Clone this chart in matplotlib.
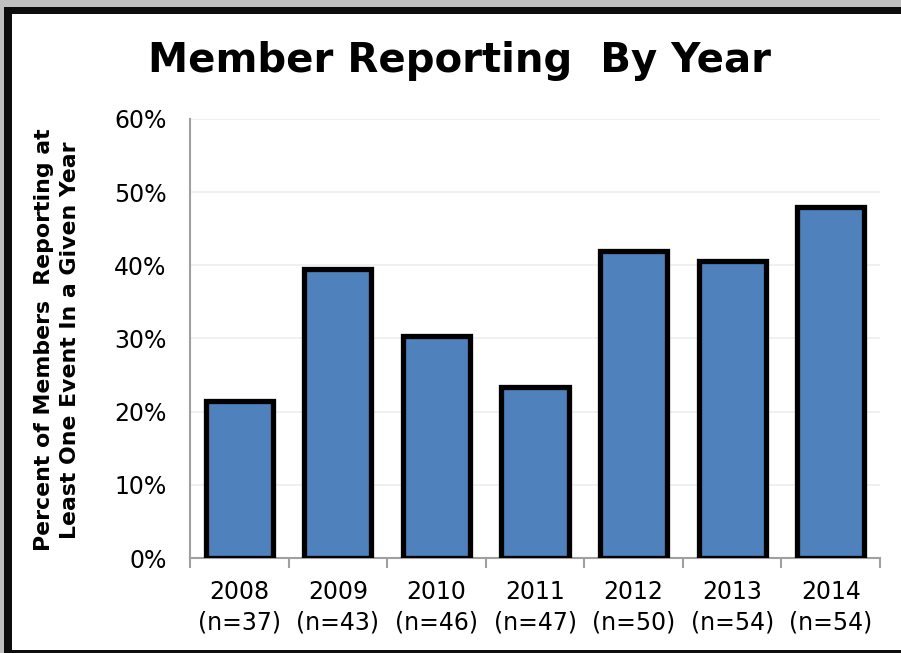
import matplotlib.pyplot as plt
from matplotlib.patches import Rectangle
from matplotlib.ticker import PercentFormatter, MultipleLocator

years = ['2008', '2009', '2010', '2011', '2012', '2013', '2014']
counts = [37, 43, 46, 47, 50, 54, 54]
percents = [21.5, 39.5, 30.3, 23.4, 42.0, 40.6, 48.0]

W, H = 901, 653
fig = plt.figure(figsize=(W / 100, H / 100), dpi=100)
fig.patch.set_facecolor('#c0c0c0')

# white panel with black frame (top/left thick, bottom thin)
fig.patches.append(Rectangle((4 / W, 0), 1, 1 - 7 / H, transform=fig.transFigure,
                             facecolor='#0d0d0d', edgecolor='none', zorder=-2))
fig.patches.append(Rectangle((12 / W, 3 / H), 1, 1 - 17 / H, transform=fig.transFigure,
                             facecolor='white', edgecolor='none', zorder=-1))

ax = fig.add_axes([190 / W, (H - 558) / H, 690 / W, 439 / H])
ax.set_facecolor('white')

x = range(len(years))
ax.bar(x, percents, width=0.68, color='#4f81bd', edgecolor='black', linewidth=3.8, zorder=3)

ax.set_ylim(0, 60)
ax.set_xlim(-0.5, len(years) - 0.5)
ax.yaxis.set_major_locator(MultipleLocator(10))
ax.yaxis.set_major_formatter(PercentFormatter(decimals=0))
ax.grid(axis='y', color='#eeeeee', linewidth=1.2, zorder=0)

for s in ['top', 'right']:
    ax.spines[s].set_visible(False)
ax.spines['left'].set_color('#a0a0a0')
ax.spines['bottom'].set_color('#a0a0a0')
ax.spines['left'].set_linewidth(1.5)
ax.spines['bottom'].set_linewidth(1.5)

ax.set_xticks([i - 0.5 for i in range(len(years) + 1)], minor=False)
ax.set_xticklabels([])
ax.tick_params(axis='x', which='major', length=7, color='#a0a0a0', width=1.5)
ax.set_xticks(list(x), minor=True)
ax.set_xticklabels([f'{y}\n(n={n})' for y, n in zip(years, counts)], minor=True,
                   linespacing=1.35)
ax.tick_params(axis='x', which='minor', length=0, labelsize=17, pad=16)
ax.tick_params(axis='y', length=0, labelsize=17, pad=17)

fig.text(57 / W, 1 - 340 / H,
         'Percent of Members  Reporting at\nLeast One Event In a Given Year',
         rotation=90, ha='center', va='center', multialignment='center',
         fontsize=15.8, fontweight='bold', linespacing=1.35)

fig.text(459 / W, 1 - 61 / H, 'Member Reporting  By Year', ha='center', va='center',
         fontsize=29, fontweight='bold')

fig.savefig('out.png', dpi=100, facecolor=fig.get_facecolor())
